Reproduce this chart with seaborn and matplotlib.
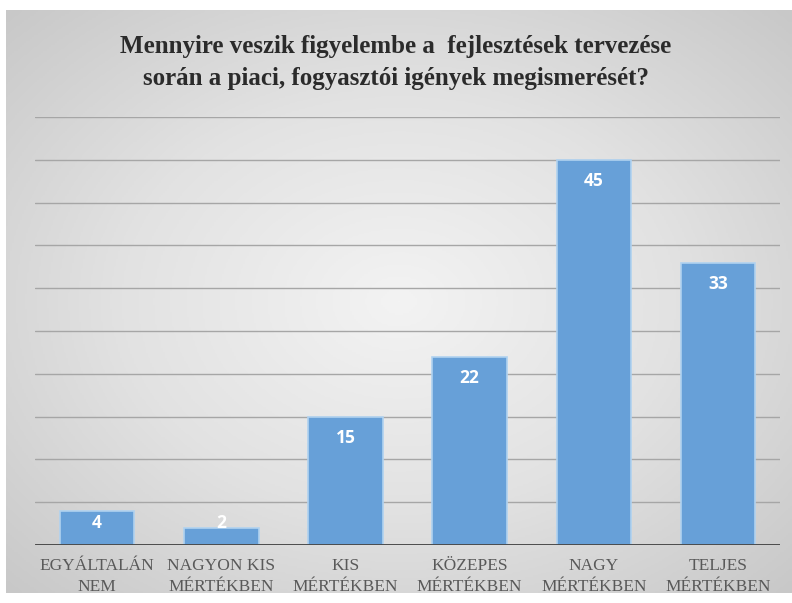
import numpy as np
import pandas as pd
import matplotlib
matplotlib.use("Agg")
import matplotlib.pyplot as plt
from matplotlib.colors import LinearSegmentedColormap
import seaborn as sns

categories = ["EGYÁLTALÁN\nNEM", "NAGYON KIS\nMÉRTÉKBEN", "KIS\nMÉRTÉKBEN",
              "KÖZEPES\nMÉRTÉKBEN", "NAGY\nMÉRTÉKBEN", "TELJES\nMÉRTÉKBEN"]
values = [4, 2, 15, 22, 45, 33]
title = ("Mennyire veszik figyelembe a  fejlesztések tervezése\n"
         "során a piaci, fogyasztói igények megismerését?")

df = pd.DataFrame({"cat": categories, "val": values})

sns.set_theme(style="white")
plt.rcParams["font.family"] = ["Liberation Serif", "DejaVu Serif"]

fig = plt.figure(figsize=(7.92, 6.03), dpi=100)
fig.patch.set_facecolor("white")

# radial gray gradient background
bg = fig.add_axes([6 / 792, 10 / 603, 786 / 792, 583 / 603])
yy, xx = np.mgrid[-1:1:300j, -1:1:400j]
r = np.sqrt(xx ** 2 + yy ** 2) / np.sqrt(2)
cmap = LinearSegmentedColormap.from_list("bg", ["#f3f3f3", "#e2e2e2", "#c8c8c8"])
bg.imshow(r, cmap=cmap, aspect="auto", extent=[0, 1, 0, 1], vmin=0, vmax=1)
bg.set_axis_off()

ax = fig.add_axes([35 / 792, 1 - 545 / 603, 745 / 792, (545 - 117) / 603])
ax.patch.set_alpha(0)
sns.barplot(data=df, x="cat", y="val", ax=ax, color="#67a0d8", saturation=1,
            width=0.6, edgecolor="#b0d2f0", linewidth=1.2, zorder=3)
ax.set_ylim(0, 50)
ax.set_yticks(np.arange(0, 51, 5))
ax.yaxis.grid(True, color="#a6a6a6", linewidth=1)
ax.set_axisbelow(True)
ax.tick_params(axis="y", left=False, labelleft=False)
ax.tick_params(axis="x", bottom=False, pad=3)
for s in ax.spines.values():
    s.set_visible(False)
ax.axhline(0, color="#404040", linewidth=2, zorder=4)
ax.set_xlabel("")
ax.set_ylabel("")
for lbl in ax.get_xticklabels():
    lbl.set_fontsize(12.5)
    lbl.set_color("#595959")
    lbl.set_linespacing(1.45)

for i, v in enumerate(values):
    ax.text(i, max(v - 2.5, 2.6), str(v), ha="center", va="center",
            color="white", fontsize=12.5, fontweight="bold",
            family=["Open Sans", "DejaVu Sans"], zorder=5)

fig.text(0.5, 1 - 62 / 603, title, ha="center", va="center", fontsize=18,
         fontweight="bold", color="#2b2b2b", linespacing=1.5)

fig.savefig("out.png", dpi=100)
